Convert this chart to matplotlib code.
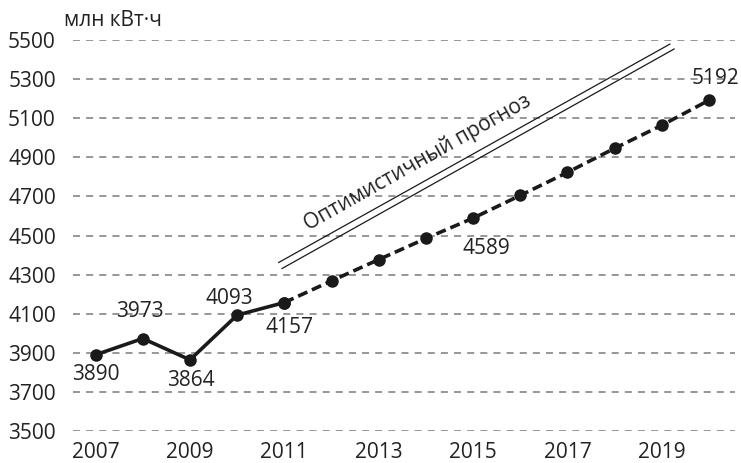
import matplotlib.pyplot as plt

plt.rcParams['font.family'] = ['Open Sans', 'DejaVu Sans']

# Data
years_fact = [2007, 2008, 2009, 2010, 2011]
values_fact = [3890, 3973, 3864, 4093, 4157]
years_fc = [2011, 2012, 2013, 2014, 2015, 2016, 2017, 2018, 2019, 2020]
values_fc = [4157, 4268, 4377, 4485, 4589, 4705, 4823, 4946, 5064, 5192]
xticks = [2007, 2009, 2011, 2013, 2015, 2017, 2019]
yticks = [3500, 3700, 3900, 4100, 4300, 4500, 4700, 4900, 5100, 5300, 5500]

# labels: (year, value, dx, dy) offsets in pixels
labels = [(2007, 3890, 0, -20), (2008, 3973, -3, 27), (2009, 3864, 1, -21),
          (2010, 4093, -8, 17), (2011, 4157, 5, -25), (2015, 4589, 13, -30),
          (2020, 5192, 6, 22)]

fig = plt.figure(figsize=(7.41, 4.63), dpi=100)
ax = fig.add_axes([72.5/741, 1-431/463, 662.5/741, 391/463])

for y in yticks:
    ax.axhline(y, color='#7a7a7a', lw=1.1, dashes=(4.6, 4.0), zorder=1)

ax.plot(years_fc, values_fc, color='#1a1a1a', lw=2.6, dashes=(2.8, 1.4),
        marker='o', ms=8, clip_on=False, zorder=3)
ax.plot(years_fact, values_fact, color='#1a1a1a', lw=2.6, marker='o', ms=8,
        clip_on=False, zorder=4)

for x, v, dx, dy in labels:
    ax.annotate(str(v), (x, v), xytext=(dx, dy), textcoords='offset pixels',
                ha='center', va='center', fontsize=15, color='#222222')

# optimistic forecast double line
ax.plot([2010.88, 2019.17], [4362, 5479], color='#1a1a1a', lw=0.9, clip_on=False)
ax.plot([2010.95, 2019.26], [4331, 5454], color='#1a1a1a', lw=0.9, clip_on=False)
ax.text(2013.83, 4875, 'Оптимистичный прогноз', rotation=29.4, rotation_mode='anchor',
        ha='center', va='center', fontsize=15, color='#222222')

ax.set_xlim(2006.51, 2020.55)
ax.set_ylim(3500, 5500)
ax.set_xticks(xticks)
ax.set_yticks(yticks)
ax.tick_params(length=0, labelsize=15, colors='#222222')
ax.tick_params(axis='x', pad=8)
ax.tick_params(axis='y', pad=12)
for s in ax.spines.values():
    s.set_visible(False)

fig.text(64/741, 1-20/463, 'млн кВт·ч', fontsize=15, color='#222222', ha='left', va='center')

plt.savefig('out.png', dpi=100)
